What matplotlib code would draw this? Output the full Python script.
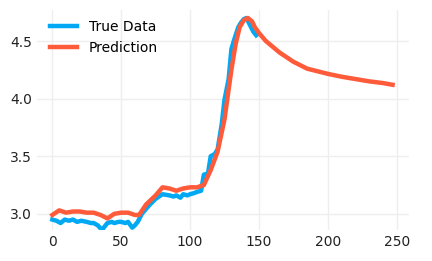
import numpy as np
import matplotlib.pyplot as plt

# datos
x_true = [0, 3, 6, 9, 12, 15, 18, 21, 25, 28, 30, 33, 36, 38, 40, 43, 45, 48, 50, 53, 55, 58, 60, 62,
          65, 70, 75, 80, 85, 88, 90, 93, 95, 98, 100, 103, 105, 108, 110, 113, 115, 118, 120, 123,
          125, 128, 130, 132, 135, 137, 139, 141, 143, 146, 148]
y_true = [2.95, 2.94, 2.92, 2.95, 2.94, 2.95, 2.93, 2.94, 2.93, 2.92, 2.92, 2.90, 2.86, 2.89, 2.92,
          2.93, 2.92, 2.93, 2.93, 2.92, 2.93, 2.88, 2.90, 2.93, 3.00, 3.07, 3.13, 3.17, 3.16, 3.15,
          3.16, 3.14, 3.17, 3.16, 3.17, 3.18, 3.19, 3.20, 3.34, 3.35, 3.50, 3.52, 3.56, 3.78, 3.99,
          4.17, 4.43, 4.51, 4.62, 4.66, 4.69, 4.70, 4.65, 4.58, 4.55]

x_pred = [0, 5, 10, 15, 20, 25, 30, 35, 40, 45, 50, 55, 60, 63, 68, 75, 80, 85, 90, 95, 100, 105,
          110, 115, 120, 125, 128, 130, 133, 136, 139, 142, 145, 147, 150, 155, 160, 165, 170, 175,
          180, 185, 190, 195, 200, 210, 220, 230, 240, 247]
y_pred = [2.99, 3.03, 3.01, 3.02, 3.02, 3.01, 3.01, 2.99, 2.96, 3.00, 3.01, 3.01, 2.99, 2.99, 3.08,
          3.16, 3.23, 3.22, 3.20, 3.22, 3.23, 3.23, 3.25, 3.38, 3.54, 3.82, 4.08, 4.25, 4.47, 4.62,
          4.68, 4.70, 4.67, 4.62, 4.57, 4.50, 4.45, 4.40, 4.36, 4.32, 4.29, 4.26, 4.245, 4.23, 4.215,
          4.19, 4.17, 4.15, 4.135, 4.12]

fig = plt.figure(figsize=(4.32, 2.61), dpi=100)
ax = fig.add_axes([0.086, 0.119, 0.861, 0.843])

ax.plot(x_true, y_true, color='#01a9f4', lw=3.2, label='True Data', zorder=3)
ax.plot(x_pred, y_pred, color='#fe5b3b', lw=3.2, label='Prediction', zorder=4)

ax.set_xlim(-11, 259)
ax.set_ylim(2.86, 4.77)
ax.set_xticks([0, 50, 100, 150, 200, 250])
ax.set_yticks([3.0, 3.5, 4.0, 4.5])
ax.grid(color='#eeeeee', lw=1)
ax.set_axisbelow(True)
for s in ax.spines.values():
    s.set_visible(False)
ax.tick_params(length=0, labelsize=10, colors='#222222')
ax.legend(loc='upper left', frameon=False, fontsize=10, handlelength=2.0,
          bbox_to_anchor=(0.0, 1.01))

fig.savefig('out.png', dpi=100)
